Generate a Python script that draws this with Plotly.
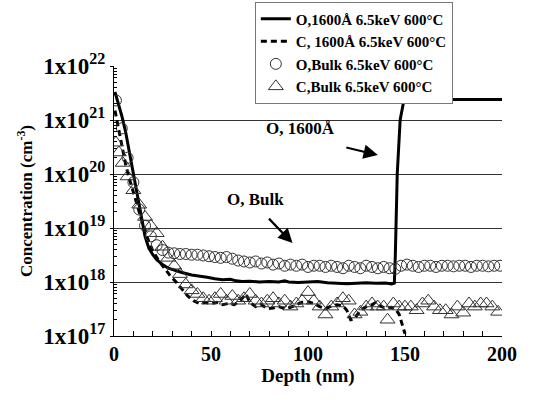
import plotly.graph_objects as go

# O, 1600A (solid)
o1600_x = [0.5, 2, 4, 6, 8, 10, 12, 14, 15, 16, 18, 20, 22, 25, 28, 31, 35, 40, 44, 48, 52, 56, 60, 63, 66,
           70, 75, 80, 85, 88, 90, 95, 100, 105, 110, 115, 120, 125, 130, 135, 140, 143, 144.5,
           145, 145.3, 146, 147.5, 149.5, 200]
o1600_y = [3.3e21, 2.2e21, 1.2e21, 6e20, 2.5e20, 9e19, 4e19, 1.6e19, 1e19, 7e18, 4.2e18, 3.2e18, 2.6e18,
           2.1e18, 1.8e18, 1.65e18, 1.5e18, 1.35e18, 1.3e18, 1.22e18, 1.15e18, 1.1e18, 1.12e18, 1.05e18,
           1.02e18, 1.03e18, 1.0e18, 1.02e18, 1.0e18, 1.05e18, 1.0e18, 0.98e18, 1.0e18, 1.02e18, 0.97e18,
           0.95e18, 0.93e18, 0.95e18, 0.97e18, 0.95e18, 0.96e18, 0.92e18, 0.95e18,
           3e18, 1e19, 1e20, 1e21, 2.4e21, 2.4e21]

# C, 1600A (dashed)
c1600_x = [0.5, 2, 4, 6, 8, 10, 12, 14, 16, 18, 20, 23, 26, 29, 32, 35, 38, 41, 44, 47, 50, 53, 56, 59,
           62, 65, 68, 70, 73, 76, 79, 82, 85, 88, 91, 94, 97, 100, 103, 106, 109, 112, 115, 118, 120,
           122, 124, 127, 130, 133, 135, 137, 140, 143, 145, 147, 150]
c1600_y = [1.5e21, 8e20, 3e20, 1.5e20, 8e19, 4.5e19, 2.5e19, 1.5e19, 9e18, 5.5e18, 3.8e18, 2.5e18, 1.8e18,
           1.3e18, 1e18, 7.5e17, 5.5e17, 4.5e17, 4e17, 4.2e17, 4e17, 4.2e17, 3.8e17, 4e17, 3.8e17, 4.5e17,
           6e17, 4.2e17, 3.5e17, 3.8e17, 3.2e17, 3.3e17, 3.5e17, 3.2e17, 3.4e17, 3.8e17, 4.2e17, 4.3e17,
           4e17, 3.5e17, 3.2e17, 3.6e17, 3.8e17, 3.6e17, 3e17, 2e17, 2.1e17, 3e17, 3.5e17, 3.8e17, 4.2e17,
           3.6e17, 3.3e17, 3.4e17, 3.2e17, 2.5e17, 1.1e17]

# O, Bulk (circles)
obulk_x = [1, 4, 7, 10, 13, 16, 19, 22, 25, 28, 31, 34, 37, 40, 43, 46, 49, 52, 55, 58, 61, 64, 67, 70,
           73, 76, 79, 82, 85, 88, 91, 94, 97, 100, 103, 106, 109, 112, 115, 118, 121, 124, 127, 130,
           133, 136, 139, 142, 145, 148, 151, 154, 157, 160, 163, 166, 169, 172, 175, 178, 181, 184,
           187, 190, 193, 196, 199]
obulk_y = [2.3e21, 7e20, 2e20, 7e19, 2.2e19, 1.1e19, 7e18, 4.8e18, 3.9e18, 3.5e18, 3.4e18, 3.3e18, 3.3e18,
           3.2e18, 3.2e18, 3.1e18, 3.0e18, 2.9e18, 2.8e18, 2.9e18, 2.7e18, 2.5e18, 2.4e18, 2.3e18, 2.4e18,
           2.2e18, 2.3e18, 2.1e18, 2.2e18, 2.0e18, 2.1e18, 2.0e18, 2.1e18, 1.9e18, 2.0e18, 2.0e18, 1.9e18,
           2.0e18, 1.9e18, 1.8e18, 2.0e18, 1.9e18, 1.8e18, 2.0e18, 1.9e18, 1.8e18, 1.9e18, 1.8e18, 1.75e18,
           2.0e18, 2.1e18, 2.0e18, 1.9e18, 2.0e18, 2.0e18, 1.9e18, 2.0e18, 2.0e18, 1.95e18, 2.0e18, 2.0e18,
           1.9e18, 2.0e18, 2.0e18, 1.95e18, 2.0e18, 2.0e18]

# C, Bulk (triangles)
cbulk_x = [1, 2.5, 4.5, 7, 10, 13, 16, 19, 22, 25, 28, 31, 34, 37, 40, 43, 46, 49, 52, 55, 58, 61, 64,
           67, 70, 73, 76, 79, 82, 85, 88, 91, 94, 97, 100, 103, 106, 109, 112, 115, 118, 121, 124, 127,
           130, 133, 136, 139, 141, 144, 147, 150, 153, 156, 159, 162, 165, 168, 171, 174, 177, 180, 183,
           186, 189, 192, 195, 198]
cbulk_y = [3.8e20, 2.5e20, 1.6e20, 9e19, 5e19, 2.7e19, 1.6e19, 1.1e19, 8e18, 4.5e18, 2.8e18, 2e18, 1.4e18,
           9e17, 7e17, 6e17, 5e17, 4.5e17, 5e17, 6e17, 4.5e17, 5.5e17, 4.5e17, 5e17, 6e17, 4.5e17, 4e17,
           4.5e17, 5e17, 4e17, 4.5e17, 3.5e17, 4e17, 4.5e17, 6.5e17, 4.5e17, 3.5e17, 2.5e17, 3.5e17, 4e17,
           5e17, 4.5e17, 2.5e17, 2.8e17, 3.5e17, 4e17, 3.5e17, 3.5e17, 2e17, 4e17, 3.5e17, 3.5e17, 3.5e17,
           3e17, 4e17, 4.5e17, 3.5e17, 3e17, 3e17, 2.5e17, 3.5e17, 2.7e17, 4e17, 3.5e17, 4e17, 4e17, 3.5e17,
           2.8e17]

names = ["O,1600Å 6.5keV 600°C", "C, 1600Å 6.5keV 600°C", "O,Bulk 6.5keV 600°C", "C,Bulk 6.5keV 600°C"]
decades = [1e17, 1e18, 1e19, 1e20, 1e21, 1e22]
decade_labels = ["1x10<sup>17</sup>", "1x10<sup>18</sup>", "1x10<sup>19</sup>",
                 "1x10<sup>20</sup>", "1x10<sup>21</sup>", "1x10<sup>22</sup>"]
minor_vals = [m * d for d in decades[:-1] for m in range(2, 10)]

FONT = "Liberation Serif"

fig = go.Figure()
fig.add_trace(go.Scatter(x=o1600_x, y=o1600_y, mode="lines", name=names[0],
                         line=dict(color="black", width=3)))
fig.add_trace(go.Scatter(x=c1600_x, y=c1600_y, mode="lines", name=names[1],
                         line=dict(color="black", width=3, dash="6px,4px")))
fig.add_trace(go.Scatter(x=obulk_x, y=obulk_y, mode="markers", name=names[2],
                         marker=dict(symbol="circle-open", size=11, color="#333",
                                     line=dict(width=1, color="#333"))))
fig.add_trace(go.Scatter(x=cbulk_x, y=cbulk_y, mode="markers", name=names[3],
                         marker=dict(symbol="triangle-up-open", size=13, color="#333",
                                     line=dict(width=1, color="#333"))))

fig.add_annotation(x=96, y=20.85, xref="x", yref="y", text="O, 1600Å", showarrow=False,
                   font=dict(family=FONT, size=17, color="black", weight="bold"))
fig.add_annotation(x=136, y=20.35, xref="x", yref="y", ax=-33, ay=-8, text="", showarrow=True,
                   arrowhead=2, arrowsize=1.3, arrowwidth=2.2, arrowcolor="black")
fig.add_annotation(x=73, y=19.52, xref="x", yref="y", text="O, Bulk", showarrow=False,
                   font=dict(family=FONT, size=17, color="black", weight="bold"))
fig.add_annotation(x=92, y=18.72, xref="x", yref="y", ax=-25, ay=-26, text="", showarrow=True,
                   arrowhead=2, arrowsize=1.3, arrowwidth=2.2, arrowcolor="black")

fig.update_layout(
    width=536, height=402,
    margin=dict(l=114, r=34, t=66, b=66, autoexpand=False),
    paper_bgcolor="white", plot_bgcolor="white",
    font=dict(family=FONT, color="black"),
    legend=dict(x=0.363, y=0.996, xref="paper", yref="container", xanchor="left", yanchor="top",
                bgcolor="white", bordercolor="#777", borderwidth=1,
                font=dict(family=FONT, size=15, color="black", weight="bold"),
                itemwidth=30, tracegroupgap=0),
    xaxis=dict(range=[0, 200], dtick=50, tick0=0, showgrid=False, zeroline=False,
               showline=True, linecolor="black", linewidth=1,
               ticks="inside", ticklen=5, tickcolor="black",
               minor=dict(dtick=10, ticks="inside", ticklen=5, tickcolor="black"),
               tickfont=dict(family=FONT, size=20, color="black", weight="bold"),
               title=dict(text="Depth (nm)", standoff=4,
                          font=dict(family=FONT, size=19, color="black", weight="bold"))),
    yaxis=dict(type="log", range=[17, 22], tickmode="array", tickvals=decades, ticktext=decade_labels,
               showgrid=True, gridcolor="#333", gridwidth=1, zeroline=False,
               showline=True, linecolor="black", linewidth=1,
               ticks="outside", ticklen=3, tickcolor="black",
               minor=dict(tickmode="array", tickvals=minor_vals, ticks="inside", ticklen=3,
                          tickcolor="black", showgrid=False),
               tickfont=dict(family=FONT, size=23, color="black", weight="bold"),
               title=dict(text="Concentration (cm<sup>-3</sup>)", standoff=6,
                          font=dict(family=FONT, size=17, color="black", weight="bold"))),
)

fig.write_html("out.html")
